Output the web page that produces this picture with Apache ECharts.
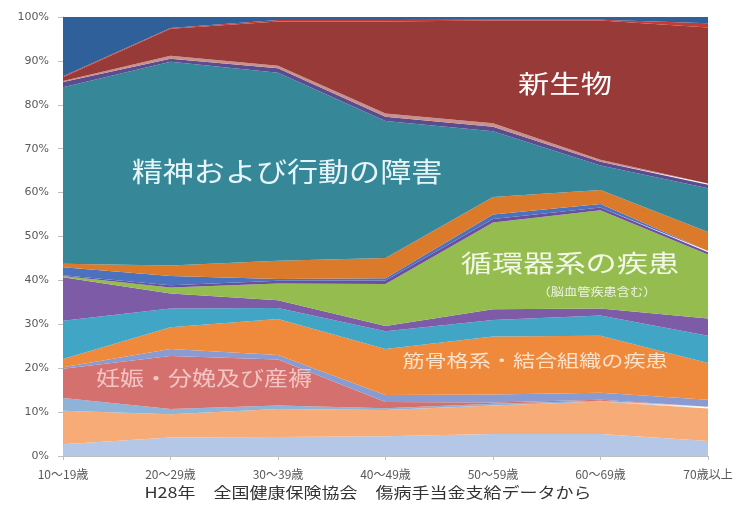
<!DOCTYPE html>
<html><head><meta charset="utf-8">
<script src="https://cdn.jsdelivr.net/npm/echarts@6/dist/echarts.min.js"></script>
<style>html,body{margin:0;padding:0;background:#fff}#c{width:741px;height:506px}</style>
</head><body><div id="c"></div>
<script>
// categories (age groups)
const categories = ['10〜19歳','20〜29歳','30〜39歳','40〜49歳','50〜59歳','60〜69歳','70歳以上'];
// y-axis ticks (percent)
const yMin = 0, yMax = 100, yStep = 10;

// share of each disease group (%) per age group, stacked bottom -> top
const layer01 = [2.7, 4.2, 4.3, 4.5, 5.0, 5.0, 3.4];
const layer02 = [7.6, 5.3, 6.4, 6.0, 6.5, 7.4, 7.4];
const layer03 = [2.9, 1.2, 0.8, 0.4, 0.4, 0.2, 0.2];
const pregnancy = [6.7, 12.1, 10.5, 1.4, 0.3, 0.2, 0.2];      // 妊娠・分娩及び産褥
const layer05 = [0.3, 1.6, 1.0, 1.6, 1.8, 1.6, 1.6];
const musculo = [1.9, 4.9, 8.2, 10.5, 13.2, 13.0, 8.4];      // 筋骨格系・結合組織の疾患
const layer07 = [8.7, 4.3, 2.5, 4.0, 3.8, 4.6, 6.2];
const layer08 = [9.9, 3.4, 1.8, 1.2, 2.4, 1.6, 3.9];
const circulatory = [0.3, 1.4, 3.8, 9.6, 19.8, 22.4, 14.6];  // 循環器系の疾患
const layer10 = [0.2, 0.5, 0.6, 0.8, 0.8, 0.6, 0.5];
const layer11 = [1.8, 2.1, 0.4, 0.5, 1.0, 0.8, 0.3];
const layer12 = [0.8, 2.4, 4.2, 4.6, 4.0, 3.2, 4.3];
const mental = [40.2, 46.4, 42.8, 31.2, 15.0, 5.6, 10.0];    // 精神および行動の障害
const layer14 = [1.2, 0.7, 1.0, 1.0, 1.0, 0.8, 0.8];
const layer15 = [0.2, 0.7, 0.6, 0.7, 0.8, 0.5, 0.3];
const neoplasm = [0.9, 6.1, 10.1, 21.0, 23.4, 31.7, 35.5];   // 新生物
const layer17 = [0.2, 0.2, 0.3, 0.3, 0.2, 0.2, 1.0];
const layer18 = [13.5, 2.5, 0.7, 0.7, 0.6, 0.6, 1.4];

const seriesData = [
  ['その他01', layer01, '#b4c7e7'],
  ['その他02', layer02, '#f7ac78'],
  ['その他03', layer03, '#8db4d8'],
  ['妊娠・分娩及び産褥', pregnancy, '#d4716f'],
  ['その他05', layer05, '#8a9bd1'],
  ['筋骨格系・結合組織の疾患', musculo, '#ef8a3c'],
  ['その他07', layer07, '#41a6c6'],
  ['その他08', layer08, '#7d5ba6'],
  ['循環器系の疾患', circulatory, '#94bc4f'],
  ['その他10', layer10, '#6b4f9e'],
  ['その他11', layer11, '#4a72bf'],
  ['その他12', layer12, '#dc7a2c'],
  ['精神および行動の障害', mental, '#368899'],
  ['その他14', layer14, '#5a4d8f'],
  ['その他15', layer15, '#c9908c'],
  ['新生物', neoplasm, '#973a38'],
  ['その他17', layer17, '#c53b31'],
  ['その他18', layer18, '#30609a']
];

const chart = echarts.init(document.getElementById('c'), null, {renderer: 'canvas'});
const jp = '"Noto Sans CJK JP", "Noto Sans", sans-serif';

function label(text, x, y, size, color, sx) {
  return {
    type: 'text', x: x, y: y, scaleX: sx, z: 100,
    style: { text: text, fill: color, font: size + 'px ' + jp, textAlign: 'center', textVerticalAlign: 'middle' }
  };
}

chart.setOption({
  animation: false,
  backgroundColor: '#ffffff',
  grid: { left: 63, right: 33, top: 17, bottom: 50 },
  xAxis: {
    type: 'category', data: categories, boundaryGap: false,
    axisLine: { lineStyle: { color: '#bfbfbf' } },
    axisTick: { show: true, alignWithLabel: true, length: 4, lineStyle: { color: '#bfbfbf' } },
    axisLabel: { color: '#595959', fontSize: 12, margin: 12, fontFamily: jp }
  },
  yAxis: {
    type: 'value', min: yMin, max: yMax, interval: yStep,
    axisLine: { show: true, lineStyle: { color: '#bfbfbf' } },
    axisTick: { show: true, length: 5, lineStyle: { color: '#bfbfbf' } },
    splitLine: { show: false },
    axisLabel: { formatter: '{value}%', color: '#595959', fontSize: 11, fontFamily: '"DejaVu Sans", sans-serif', margin: 14 }
  },
  series: seriesData.map(function (s) {
    return {
      name: s[0], type: 'line', stack: 'total', data: s[1],
      symbol: 'none', smooth: false,
      lineStyle: { width: 0 },
      areaStyle: { color: s[2], opacity: 1 },
      itemStyle: { color: s[2] }
    };
  }),
  graphic: [
    label('新生物', 565, 83, 25, '#ffffff', 1.25),
    label('精神および行動の障害', 287, 172, 27, '#e6f5f8', 1.15),
    label('循環器系の疾患', 570, 263, 24, '#f3f8e6', 1.3),
    label('（脳血管疾患含む）', 597, 292, 11, '#eef3e0', 1.2),
    label('筋骨格系・結合組織の疾患', 535, 361, 17, '#fde2cc', 1.3),
    label('妊娠・分娩及び産褥', 204, 378, 20, '#f2c6c4', 1.2),
    label('H28年　全国健康保険協会　傷病手当金支給データから', 368, 492, 15, '#333333', 1.2)
  ]
});
</script></body></html>
